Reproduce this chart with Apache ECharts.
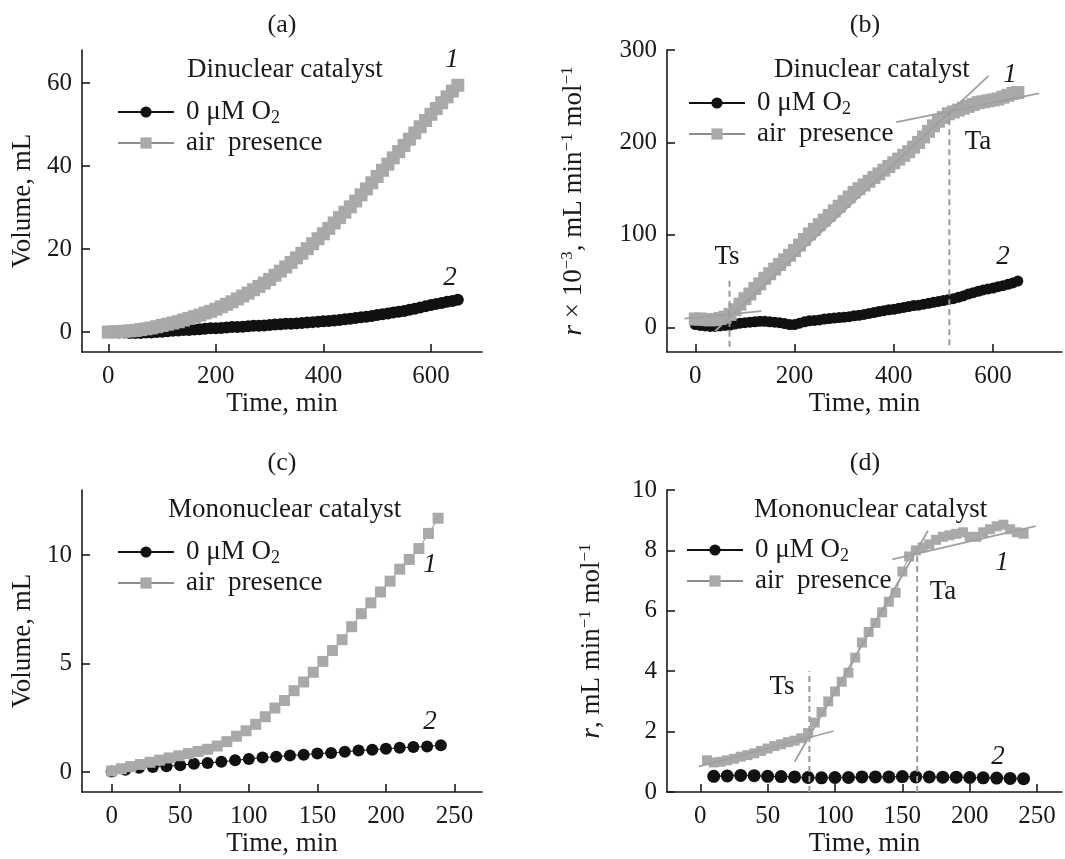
<!DOCTYPE html>
<html><head><meta charset="utf-8">
<script src="https://cdn.jsdelivr.net/npm/echarts@6/dist/echarts.min.js"></script>
<style>html,body{margin:0;padding:0;background:#fff}#c{width:1065px;height:859px}</style>
</head><body><div id="c"></div>
<script>
// ---------- DATA ----------
const timeAB = [0,10,20,30,40,50,60,70,80,90,100,110,120,130,140,150,160,170,180,190,200,210,220,230,240,250,260,270,280,290,300,310,320,330,340,350,360,370,380,390,400,410,420,430,440,450,460,470,480,490,500,510,520,530,540,550,560,570,580,590,600,610,620,630,640,650];
const volAirA = [0,0.05,0.1,0.2,0.3,0.4,0.6,0.8,1.0,1.3,1.6,1.9,2.2,2.5,2.9,3.3,3.7,4.1,4.6,5.0,5.5,6.1,6.7,7.3,8.0,8.7,9.4,10.2,11.0,11.8,12.7,13.7,14.7,15.7,16.8,17.9,19.0,20.1,21.3,22.5,23.7,25.0,26.3,27.6,28.9,30.2,31.6,33.1,34.5,36.0,37.5,39.0,40.5,42.0,43.5,45.0,46.5,48.0,49.5,51.0,52.5,53.9,55.3,56.7,58.1,59.5];
const volN2A = [0,0,-0.1,-0.1,-0.2,-0.2,-0.2,-0.1,-0.1,0,0.1,0.2,0.3,0.4,0.5,0.5,0.6,0.7,0.8,0.9,0.9,1.0,1.1,1.2,1.2,1.3,1.4,1.5,1.5,1.6,1.7,1.8,1.9,2.0,2.0,2.1,2.2,2.3,2.4,2.5,2.6,2.7,2.8,2.9,3.1,3.2,3.4,3.6,3.7,3.9,4.1,4.3,4.5,4.7,4.9,5.1,5.4,5.6,5.9,6.2,6.5,6.8,7.0,7.3,7.5,7.8];
const rateAirB = [9,9,8.5,8,8.5,9.5,11,14,19,25,31,36,42,47,53,58,63,68,73,78,83,89,95,101,106,111,116,121,126,131,136,141,146,150,154,158,162,166,170,174,178,182,186,190,195,200,206,212,218,223,227,231,233,235,237,239,241,243,244,245,246,247,249,251,253,254];
const rateN2B = [3,2,1.5,1,1,1.5,2,2.5,3.5,4.5,5,5.5,6,6.5,6.5,6,5.5,5,4,3,3,4.5,6,7,7.5,8,9,9.5,10,10.5,11,11.5,12.5,13,14,15,16,17,18,19,19.5,20.5,21.5,22.5,23.5,24,25,26,27,28,29,30,31,32.5,34,36,37.5,39,40.5,41.5,42.5,44,45,46.5,48,50];
const fitB = [[[-22,9.5],[133,17.5]],[[40,-4],[591,272]],[[405,222],[693,253]]];
const dashB = [[[69,-21],[69,52.7]],[[512,-19.5],[512,232]]];

const timeCair = [0,7,14,21,28,35,42,49,56,63,70,77,84,91,98,105,112,119,126,133,140,147,154,161,168,175,182,189,196,203,210,217,224,231,238];
const volAirC = [0.05,0.15,0.25,0.35,0.45,0.55,0.65,0.75,0.85,0.95,1.05,1.2,1.4,1.65,1.9,2.2,2.55,2.95,3.3,3.75,4.15,4.6,5.1,5.6,6.1,6.7,7.3,7.8,8.3,8.8,9.35,9.8,10.3,11.0,11.7];
const timeC = [0,10,20,30,40,50,60,70,80,90,100,110,120,130,140,150,160,170,180,190,200,210,220,230,240];
const volN2C = [0.02,0.1,0.2,0.23,0.27,0.31,0.38,0.42,0.47,0.54,0.6,0.67,0.71,0.76,0.8,0.85,0.88,0.93,0.99,1.03,1.07,1.12,1.15,1.18,1.24];

const timeDair = [5,10,15,20,25,30,35,40,45,50,55,60,65,70,75,80,85,90,95,100,105,110,115,120,125,130,135,140,145,150,155,160,165,170,175,180,185,190,195,200,205,210,215,220,225,230,235,240];
const rateAirD = [1.05,0.98,1.0,1.05,1.1,1.17,1.22,1.28,1.36,1.44,1.52,1.58,1.65,1.7,1.78,1.95,2.3,2.65,3.0,3.33,3.65,3.95,4.45,4.95,5.3,5.6,5.95,6.3,6.6,7.3,7.8,8.0,8.1,8.2,8.35,8.45,8.5,8.55,8.6,8.45,8.45,8.6,8.7,8.8,8.85,8.7,8.6,8.55];
const timeDN2 = [10,20,30,40,50,60,70,80,90,100,110,120,130,140,150,160,170,180,190,200,210,220,230,240];
const rateN2D = [0.52,0.53,0.55,0.54,0.52,0.51,0.5,0.48,0.47,0.48,0.48,0.5,0.5,0.5,0.51,0.5,0.5,0.49,0.49,0.48,0.47,0.46,0.45,0.44];
const fitD = [[[-1,0.85],[99,2.02]],[[70,1.0],[169,8.65]],[[142.5,7.7],[249,8.8]]];
const dashD = [[[81,0],[81,4.0]],[[161,0],[161,7.86]]];

const ticksA_x = [0,200,400,600], ticksA_y = [0,20,40,60];
const ticksB_x = [0,200,400,600], ticksB_y = [0,100,200,300];
const ticksC_x = [0,50,100,150,200,250], ticksC_y = [0,5,10];
const ticksD_x = [0,50,100,150,200,250], ticksD_y = [0,2,4,6,8,10];

// ---------- STYLE ----------
const FONT = '"Liberation Serif", "Times New Roman", serif';
const INK = '#1a1a1a';
const GRAY = '#a9a9a9';
const N2 = '0 μM O2', AIR = 'air presence';

const zip = (a, b) => a.map((v, i) => [v, b[i]]);

const grids = [
  {left: 82, top: 50, width: 400, height: 302},
  {left: 667, top: 50, width: 395, height: 302},
  {left: 82, top: 490, width: 400, height: 302},
  {left: 667, top: 490, width: 395, height: 302}
].map(g => Object.assign(g, {containLabel: false, outerBoundsMode: 'none'}));

function xAx(gi, min, max, ticks) {
  return {
    type: 'value', gridIndex: gi, min: min, max: max,
    axisLine: {onZero: false, lineStyle: {color: INK, width: 1.6}},
    axisTick: {inside: true, length: 8, customValues: ticks, lineStyle: {color: INK, width: 1.6}},
    axisLabel: {customValues: ticks, margin: 12, color: INK, fontFamily: FONT, fontSize: 25},
    splitLine: {show: false},
    name: 'Time, min', nameLocation: 'middle', nameGap: 38,
    nameTextStyle: {fontFamily: FONT, fontSize: 27, color: INK}
  };
}
const supRich = {
  i: {fontFamily: FONT, fontSize: 27, fontStyle: 'italic', color: INK, lineHeight: 30},
  n: {fontFamily: FONT, fontSize: 27, color: INK, lineHeight: 30},
  sup: {fontFamily: FONT, fontSize: 17, color: INK, lineHeight: 17, verticalAlign: 'top'}
};
function yAx(gi, min, max, ticks, name, gap) {
  return {
    type: 'value', gridIndex: gi, min: min, max: max,
    axisLine: {onZero: false, lineStyle: {color: INK, width: 1.6}},
    axisTick: {inside: true, length: 8, customValues: ticks, lineStyle: {color: INK, width: 1.6}},
    axisLabel: {customValues: ticks, margin: 10, color: INK, fontFamily: FONT, fontSize: 25},
    splitLine: {show: false},
    name: name, nameLocation: 'middle', nameGap: gap, nameRotate: 90,
    nameTextStyle: {fontFamily: FONT, fontSize: 27, color: INK, lineHeight: 30, rich: supRich}
  };
}

function dataSeries(gi, name, xs, ys, sym, size) {
  const black = name === N2;
  return {
    type: 'line', name: name, xAxisIndex: gi, yAxisIndex: gi,
    data: zip(xs, ys), symbol: sym, symbolSize: size, showSymbol: true,
    itemStyle: {color: black ? '#111' : GRAY},
    lineStyle: {color: black ? '#111' : '#8c8c8c', width: 1},
    z: black ? 2 : 3, animation: false
  };
}
function segSeries(gi, segs, dashed) {
  return segs.map(s => ({
    type: 'line', xAxisIndex: gi, yAxisIndex: gi, data: s, showSymbol: false, symbol: 'none',
    lineStyle: dashed ? {color: '#9a9a9a', width: 2, type: [6, 4]} : {color: '#a0a0a0', width: 1.8},
    z: dashed ? 6 : 5, silent: true, animation: false
  }));
}

const series = [
  dataSeries(0, N2, timeAB, volN2A, 'circle', 12),
  dataSeries(0, AIR, timeAB, volAirA, 'rect', 13),
  dataSeries(1, N2, timeAB, rateN2B, 'circle', 11),
  dataSeries(1, AIR, timeAB, rateAirB, 'rect', 13),
  dataSeries(2, N2, timeC, volN2C, 'circle', 12),
  dataSeries(2, AIR, timeCair, volAirC, 'rect', 11),
  dataSeries(3, N2, timeDN2, rateN2D, 'circle', 13),
  dataSeries(3, AIR, timeDair, rateAirD, 'rect', 10),
  ...segSeries(1, fitB, false), ...segSeries(1, dashB, true),
  ...segSeries(3, fitD, false), ...segSeries(3, dashD, true)
];

const legendPos = [[117, 97], [688, 88], [117, 537], [686, 535]];
const legends = legendPos.map(p => ({
  orient: 'vertical', left: p[0], top: p[1], padding: 0,
  itemWidth: 56, itemHeight: 14, itemGap: 1, selectedMode: false,
  data: [N2, AIR],
  lineStyle: {width: 2},
  formatter: n => n === N2 ? '0 μM O{sub|2}' : 'air  presence',
  textStyle: {fontFamily: FONT, fontSize: 27, color: INK, lineHeight: 30, padding: [0, 0, 0, 7],
    rich: {sub: {fontFamily: FONT, fontSize: 18, color: INK, lineHeight: 20, verticalAlign: 'bottom'}}}
}));

function txt(x, y, s, opts) {
  opts = opts || {};
  return {
    type: 'text', x: x, y: y, silent: true,
    style: {
      text: s, fill: INK,
      font: (opts.italic ? 'italic ' : '') + (opts.size || 27) + 'px ' + FONT,
      align: opts.align || 'center', verticalAlign: 'middle',
      textAlign: opts.align || 'center', textVerticalAlign: 'middle'
    }
  };
}
const graphics = [
  txt(282, 25, '(a)', {size: 26}), txt(865, 25, '(b)', {size: 26}),
  txt(282, 463, '(c)', {size: 26}), txt(865, 463, '(d)', {size: 26}),
  txt(187, 70, 'Dinuclear catalyst', {align: 'left'}),
  txt(774, 70, 'Dinuclear catalyst', {align: 'left'}),
  txt(168, 510, 'Mononuclear catalyst', {align: 'left'}),
  txt(754, 510, 'Mononuclear catalyst', {align: 'left'}),
  txt(452, 60, '1', {italic: true}), txt(450, 278, '2', {italic: true}),
  txt(1010, 75, '1', {italic: true}), txt(1003, 257, '2', {italic: true}),
  txt(727, 257, 'Ts'), txt(978, 142, 'Ta'),
  txt(430, 565, '1', {italic: true}), txt(430, 722, '2', {italic: true}),
  txt(1002, 563, '1', {italic: true}), txt(998, 757, '2', {italic: true}),
  txt(782, 687, 'Ts'), txt(943, 592, 'Ta')
];

const option = {
  backgroundColor: '#fff',
  animation: false,
  grid: grids,
  xAxis: [xAx(0, -49, 695, ticksA_x), xAx(1, -57, 739, ticksB_x), xAx(2, -21.6, 270, ticksC_x), xAx(3, -24.7, 268.5, ticksD_x)],
  yAxis: [
    yAx(0, -4.8, 68, ticksA_y, 'Volume, mL', 44),
    yAx(1, -26.7, 300, ticksB_y, '{i|r}{n| × 10}{sup|−3}{n|, mL min}{sup|−1}{n| mol}{sup|−1}', 78),
    yAx(2, -0.92, 13, ticksC_y, 'Volume, mL', 44),
    yAx(3, 0, 10, ticksD_y, '{i|r}{n|, mL min}{sup|−1}{n| mol}{sup|−1}', 60)
  ],
  legend: legends,
  series: series,
  graphic: graphics
};
const chart = echarts.init(document.getElementById('c'), null, {renderer: 'canvas'});
chart.setOption(option);
</script></body></html>
